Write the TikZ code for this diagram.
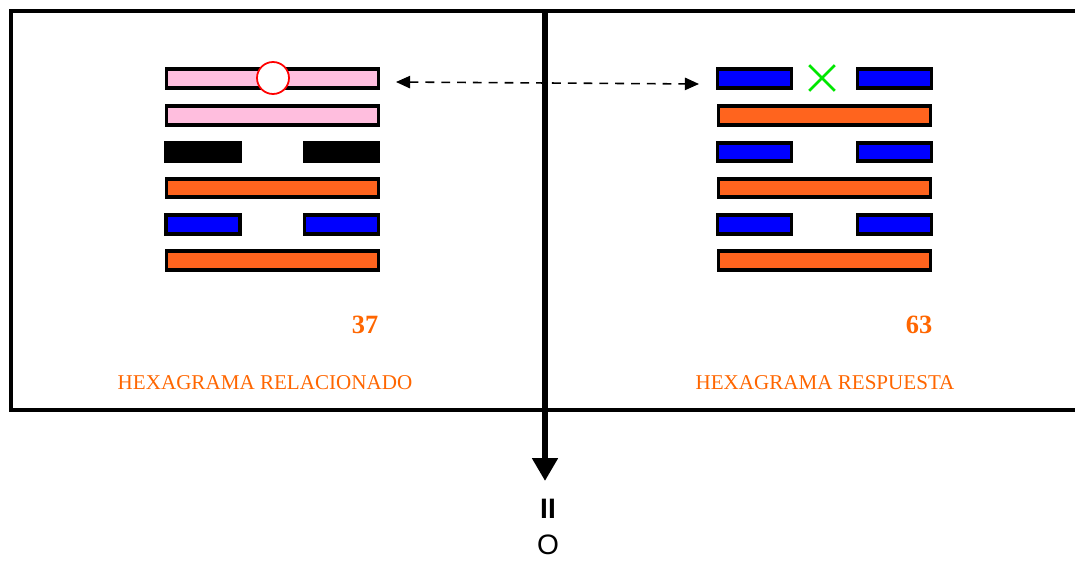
\documentclass[tikz,border=0pt]{standalone}
\usepackage{fontspec}
\setmainfont{Liberation Serif}
\setsansfont{Liberation Sans}
\usetikzlibrary{arrows.meta}
\definecolor{yaopink}{RGB}{255,190,222}
\definecolor{yaoorange}{RGB}{255,100,30}
\definecolor{yaoblue}{RGB}{0,0,255}
\definecolor{txtorange}{RGB}{255,102,0}
\definecolor{xgreen}{RGB}{0,230,0}
\tikzset{
  yang/.style={draw,line width=2pt,fill=#1,minimum width=4.24cm,minimum height=0.37cm,inner sep=0pt},
  yin/.style={draw,line width=2pt,fill=#1,minimum width=1.48cm,minimum height=0.37cm,inner sep=0pt},
  num/.style={text=txtorange,font=\bfseries\fontsize{15}{18}\selectfont},
  title/.style={text=txtorange,font=\fontsize{12}{14}\selectfont}
}
\begin{document}
\begin{tikzpicture}[x=0.02cm,y=-0.02cm]
	\useasboundingbox (0,0) rectangle (1075,561);
	\draw[line width=1.8pt] (1080,11) -- (11,11) -- (11,410) -- (1080,410);
	% related hexagram
	\node[yang=yaopink] (l1) at (272.5,78.5) {};
	\node[yang=yaopink] (l2) at (272.5,115.5) {};
	\node[yin=black] (l3a) at (203,152) {};
	\node[yin=black] (l3b) at (341.5,152) {};
	\node[yang=yaoorange] (l4) at (272.5,188) {};
	\node[yin=yaoblue] (l5a) at (203,224.5) {};
	\node[yin=yaoblue] (l5b) at (341.5,224.5) {};
	\node[yang=yaoorange] (l6) at (272.5,260.5) {};
	\node[circle,draw=red,fill=white,line width=1pt,minimum size=0.64cm] (move) at (273,78) {};
	\node[num] (n37) at (365,325) {37};
	\node[title] (t1) at (265,383) {HEXAGRAMA RELACIONADO};
	% answer hexagram
	\node[yin=yaoblue] (r1a) at (754.5,78.5) {};
	\node[yin=yaoblue] (r1b) at (894.5,78.5) {};
	\node[yang=yaoorange] (r2) at (824.5,115.5) {};
	\node[yin=yaoblue] (r3a) at (754.5,152) {};
	\node[yin=yaoblue] (r3b) at (894.5,152) {};
	\node[yang=yaoorange] (r4) at (824.5,188) {};
	\node[yin=yaoblue] (r5a) at (754.5,224.5) {};
	\node[yin=yaoblue] (r5b) at (894.5,224.5) {};
	\node[yang=yaoorange] (r6) at (824.5,260.5) {};
	\node[minimum size=0.5cm,inner sep=0pt] (cross) at (822,78) {};
	\draw[xgreen,line width=1.6pt] (cross.north west) -- (cross.south east) (cross.north east) -- (cross.south west);
	\node[num] (n63) at (919,325) {63};
	\node[title] (t2) at (825,383) {HEXAGRAMA RESPUESTA};
	% link and result
	\coordinate (lend) at (396,82);
	\coordinate (rend) at (699,84);
	\draw[dash pattern=on 5pt off 4pt,line width=0.9pt,{Triangle[length=8pt,width=7pt]}-{Triangle[length=8pt,width=7pt]}] (lend) -- (rend);
	\coordinate (top) at (545,11);
	\node[font=\sffamily\fontsize{16}{20}\selectfont,align=center,inner sep=0pt] (res) at (548,527) {\textbf{II}\\O};
	\draw[line width=3.4pt,-{Triangle[length=13pt,width=14pt]}] (top) -- (545,481);
\end{tikzpicture}
\end{document}
